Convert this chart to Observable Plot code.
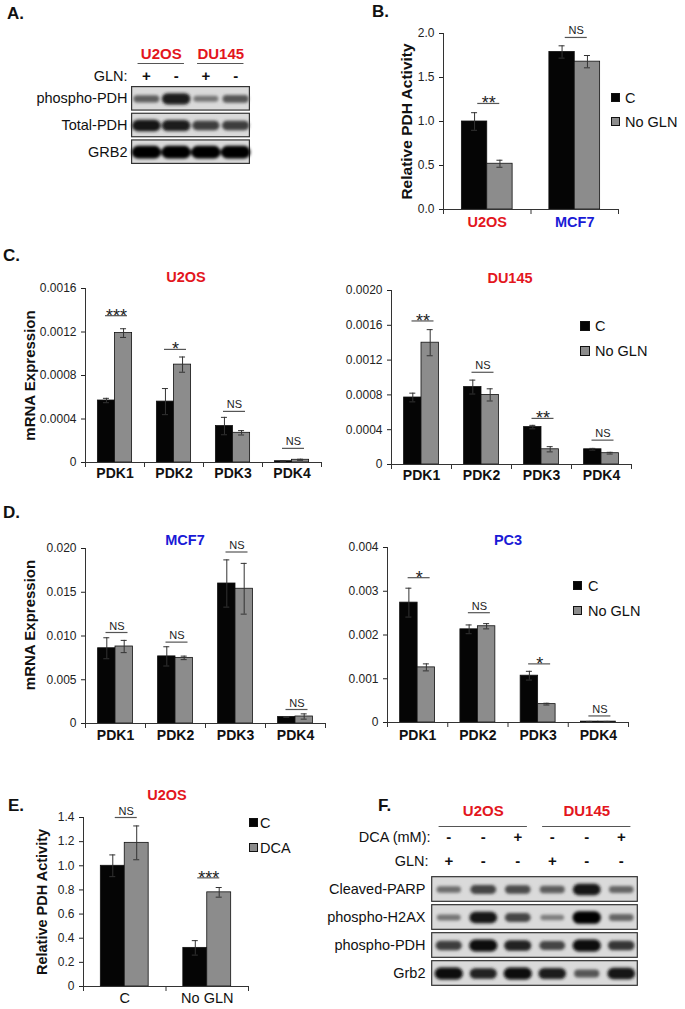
<!DOCTYPE html>
<html><head><meta charset="utf-8">
<script src="https://cdn.jsdelivr.net/npm/d3@7"></script>
<script src="https://cdn.jsdelivr.net/npm/@observablehq/plot@0.6"></script>
<style>
body{margin:0;background:#fff;}
#fig{position:relative;width:685px;height:1009px;overflow:hidden;font-family:"Liberation Sans",Arial,Helvetica,sans-serif;color:#111;}
.abs{position:absolute;white-space:nowrap;line-height:1;}
.sq{position:absolute;border:1px solid #111;box-sizing:border-box;}
</style></head><body><div id="fig"></div>
<script>
// ---------------- DATA ----------------
const pdks = ["PDK1", "PDK2", "PDK3", "PDK4"];
const glnSeries = ["C", "No GLN"];
const dcaSeries = ["C", "DCA"];

// Panel A (western blot, band intensity 0..1)
const aLanes = [1, 2, 3, 4];
const aRows = ["phospho-PDH", "Total-PDH", "GRB2"];
const aGLN = ["+", "-", "+", "-"];
const aGroups = ["U2OS", "DU145"];
const aGroupLanes = [[1, 2], [3, 4]];
const aIntensity = [
  [0.45, 0.85, 0.30, 0.50],
  [0.90, 0.85, 0.65, 0.65],
  [1.00, 1.00, 1.00, 1.00]
];

// Panel B
const bLines = ["U2OS", "MCF7"];
const bC = [1.00, 1.79], bCerr = [0.10, 0.07];
const bN = [0.52, 1.68], bNerr = [0.04, 0.07];
const bSig = ["**", "NS"], bSigLevel = [1.205, 1.955];

// Panel C – U2OS
const u2C = [0.00057, 0.00056, 0.000335, 0.000012], u2Cerr = [0.00002, 0.00012, 0.00008, 0.000005];
const u2N = [0.00119, 0.00090, 0.000273, 0.000025], u2Nerr = [0.00004, 0.00007, 0.00002, 0.000005];
const u2Sig = ["***", "*", "NS", "NS"], u2SigLevel = [0.00135, 0.00104, 0.00047, 0.00013];
// Panel C – DU145
const duC = [0.00077, 0.00089, 0.00043, 0.000175], duCerr = [0.00005, 0.00008, 0.00002, 0.00001];
const duN = [0.00140, 0.00080, 0.000175, 0.00013], duNerr = [0.00015, 0.00007, 0.00003, 0.00001];
const duSig = ["**", "NS", "**", "NS"], duSigLevel = [0.00165, 0.00106, 0.00053, 0.00028];
// Panel D – MCF7
const mcC = [0.0086, 0.00767, 0.0160, 0.00075], mcCerr = [0.0012, 0.0011, 0.0027, 0.00005];
const mcN = [0.0088, 0.0075, 0.0154, 0.0008], mcNerr = [0.0007, 0.0002, 0.0029, 0.0003];
const mcSig = ["NS", "NS", "NS", "NS"], mcSigLevel = [0.0104, 0.0093, 0.0196, 0.0016];
// Panel D – PC3
const pcC = [0.00274, 0.00213, 0.00107, 0.00002], pcCerr = [0.00033, 0.0001, 0.0001, 0.000005];
const pcN = [0.00126, 0.00220, 0.00042, 0.00002], pcNerr = [0.00008, 0.00006, 0.00002, 0.000005];
const pcSig = ["*", "NS", "*", "NS"], pcSigLevel = [0.00331, 0.00251, 0.00134, 0.00015];

// Panel E
const eCats = ["C", "No GLN"];
const eC = [1.00, 0.32], eCerr = [0.09, 0.06];
const eD = [1.19, 0.78], eDerr = [0.14, 0.04];
const eSig = ["NS", "***"], eSigLevel = [1.40, 0.90];

// Panel F (western blot)
const fLanes = [1, 2, 3, 4, 5, 6];
const fRows = ["Cleaved-PARP", "phospho-H2AX", "phospho-PDH", "Grb2"];
const fDCA = ["-", "-", "+", "-", "-", "+"];
const fGLN = ["+", "-", "-", "+", "-", "-"];
const fGroups = ["U2OS", "DU145"];
const fGroupLanes = [[1, 2, 3], [4, 5, 6]];
const fIntensity = [
  [0.35, 0.60, 0.55, 0.45, 0.90, 0.40],
  [0.30, 0.90, 0.60, 0.25, 1.00, 0.40],
  [0.65, 0.95, 0.80, 0.60, 0.95, 0.70],
  [0.95, 0.80, 0.95, 0.85, 0.50, 0.90]
];

// ---------------- STYLE / HELPERS ----------------
const FONT = '"Liberation Sans", Arial, Helvetica, sans-serif';
const RED = "#e3161d", BLUE = "#1a1ad6";
const BLACK = "#050505", GREY = "#8c8c8c";
const fig = document.getElementById("fig");

function addText(txt, x, y, {size = 14, weight = "normal", color = "#111", anchor = "start"} = {}) {
  const d = document.createElement("div");
  d.className = "abs";
  d.textContent = txt;
  d.style.left = x + "px";
  d.style.top = y + "px";
  d.style.fontSize = size + "px";
  d.style.fontWeight = weight;
  d.style.color = color;
  const tx = anchor === "middle" ? "-50%" : anchor === "end" ? "-100%" : "0";
  d.style.transform = `translate(${tx}, -50%)`;
  fig.appendChild(d);
}
function addSwatch(x, y, s, fill) {
  const d = document.createElement("div");
  d.className = "sq";
  d.style.left = x + "px"; d.style.top = y + "px";
  d.style.width = s + "px"; d.style.height = s + "px";
  d.style.background = fill;
  fig.appendChild(d);
}
function place(svg, left, top) {
  svg.style.position = "absolute";
  svg.style.left = left + "px";
  svg.style.top = top + "px";
  fig.appendChild(svg);
}
const baseStyle = {fontFamily: FONT, fontSize: "12px", color: "#222", background: "transparent", overflow: "visible"};

function groupedBars(cfg) {
  const {cats, vals, errs, colors, sig, sigLevel, domain, ticks, fmt, box, m,
         frac = 0.58, catFill, catWeight = "bold", catSize = 14, catDy,
         yLabel, yLabelDx, yLabelDy = 0, yLabelSize = 14.5} = cfg;
  const n = cats.length;
  const frameW = box.w - m.l - m.r, frameH = box.h - m.t - m.b;
  const stepPx = frameW / n;
  const half = frac / 2;
  const bars = [];
  vals.forEach((arr, s) => arr.forEach((v, i) => {
    const x1 = s === 0 ? i - half : i;
    const x2 = s === 0 ? i : i + half;
    bars.push({i, s, v, e: errs[s][i], x1, x2, xc: (x1 + x2) / 2});
  }));
  const capU = 3 / stepPx;
  const sigU = 11 / stepPx;
  const sigOff = 1.5 / stepPx;
  const sigRows = sig.map((t, i) => ({i, t, y: sigLevel[i]}));
  const stars = sigRows.filter(d => d.t.startsWith("*"));
  const ns = sigRows.filter(d => !d.t.startsWith("*"));
  const bounds = d3.range(n + 1).map(k => k - 0.5);
  const marks = [
    Plot.rect(bars, {x1: "x1", x2: "x2", y1: 0, y2: "v", fill: d => colors[d.s], stroke: "#111", strokeWidth: 0.8}),
    Plot.ruleX(bars, {x: "xc", y1: d => d.v - d.e, y2: d => d.v + d.e, stroke: "#333", strokeWidth: 1}),
    Plot.ruleY(bars, {y: d => d.v + d.e, x1: d => d.xc - capU, x2: d => d.xc + capU, stroke: "#333", strokeWidth: 1}),
    Plot.ruleY(bars, {y: d => d.v - d.e, x1: d => d.xc - capU, x2: d => d.xc + capU, stroke: "#333", strokeWidth: 1}),
    Plot.ruleX([-0.5], {x: d => d, stroke: "#333"}),
    Plot.ruleY([0], {y: d => d, stroke: "#333"}),
    Plot.ruleX(bounds, {x: d => d, insetTop: frameH, insetBottom: -5, stroke: "#333"}),
    Plot.ruleY(sigRows, {y: "y", x1: d => d.i + sigOff - sigU, x2: d => d.i + sigOff + sigU, stroke: "#555", strokeWidth: 1.2}),
    Plot.text(ns, {x: d => d.i + sigOff, y: "y", text: "t", lineAnchor: "bottom", dy: -3, fontSize: 11, fill: "#222"}),
    Plot.text(stars, {x: d => d.i + sigOff, y: "y", text: "t", lineAnchor: "bottom", dy: 6, fontSize: 18, fill: "#222"}),
    Plot.text(cats, {x: (d, i) => i, text: d => d, frameAnchor: "bottom", dy: catDy, lineAnchor: "middle",
      fontWeight: catWeight, fontSize: catSize, fill: (d, i) => catFill ? catFill[i] : "#111"})
  ];
  if (yLabel) marks.push(Plot.text([yLabel], {frameAnchor: "left", textAnchor: "middle", text: d => d, rotate: -90,
      dx: yLabelDx, dy: yLabelDy, fontWeight: "bold", fontSize: yLabelSize, fill: "#111"}));
  const svg = Plot.plot({
    width: box.w, height: box.h,
    marginLeft: m.l, marginRight: m.r, marginTop: m.t, marginBottom: m.b,
    style: baseStyle,
    color: {type: "identity"},
    x: {domain: [-0.5, n - 0.5], axis: null},
    y: {domain, ticks, tickFormat: fmt, tickSize: 4, tickPadding: 5, label: null},
    marks
  });
  place(svg, box.x, box.y);
}

function bandSymbol(base) {
  return {draw(ctx, size) {
    const r = Math.sqrt(size / Math.PI);
    const b = 0.9 * r, a = base + 0.6 * r;
    ctx.moveTo(-a + b, -b);
    ctx.lineTo(a - b, -b);
    ctx.arc(a - b, 0, b, -Math.PI / 2, Math.PI / 2);
    ctx.lineTo(-a + b, b);
    ctx.arc(-a + b, 0, b, Math.PI / 2, 3 * Math.PI / 2);
    ctx.closePath();
  }};
}

function blot(cfg) {
  const {id, lanes, rows, intensity, groups, groupLanes, treat, box, m, base,
         groupDy, lineDy, labelDx} = cfg;
  const nR = rows.length;
  const bands = [];
  intensity.forEach((arr, r) => arr.forEach((v, k) => bands.push({lane: lanes[k], r, v})));
  const boxes = rows.map((name, r) => ({name, r}));
  const lo = d3.min(lanes) - 0.5, hi = d3.max(lanes) + 0.5;
  const grp = groups.map((g, k) => ({g, c: d3.mean(groupLanes[k]), a: d3.min(groupLanes[k]) - 0.28, b: d3.max(groupLanes[k]) + 0.28}));
  const marks = [
    Plot.rect(boxes, {x1: lo + 0.02, x2: hi - 0.02, y1: d => d.r - 0.44, y2: d => d.r + 0.44, fill: "#dadada", stroke: "#333", strokeWidth: 1.2}),
    Plot.dot(bands, {x: "lane", y: "r", r: "v", fill: "v", symbol: bandSymbol(base)}),
    Plot.text(boxes, {y: "r", text: "name", frameAnchor: "left", textAnchor: "end", dx: labelDx, fontSize: 14.5, fill: "#111"}),
    Plot.text(grp, {x: "c", text: "g", frameAnchor: "top", dy: groupDy, lineAnchor: "middle", fontSize: 15, fontWeight: "bold", fill: RED}),
    Plot.ruleY(grp, {y: -0.5, x1: "a", x2: "b", dy: lineDy, stroke: "#555", strokeWidth: 1.2})
  ];
  treat.forEach(t => {
    marks.push(Plot.text(t.signs, {x: (d, i) => lanes[i], text: d => d, frameAnchor: "top", dy: t.dy, lineAnchor: "middle", fontSize: 15, fontWeight: "bold", fill: "#111"}));
    marks.push(Plot.text([t.label], {text: d => d, frameAnchor: "top-left", dx: t.dx, dy: t.dy, textAnchor: "end", lineAnchor: "middle", fontSize: 14.5, fill: "#111"}));
  });
  const svg = Plot.plot({
    width: box.w, height: box.h,
    marginLeft: m.l, marginRight: m.r, marginTop: m.t, marginBottom: m.b,
    style: baseStyle,
    x: {domain: [lo, hi], axis: null},
    y: {domain: [nR - 0.5, -0.5], axis: null},
    r: {type: "linear", domain: [0, 1], range: [1.7, 7]},
    color: {type: "linear", domain: [0, 1], range: ["#a6a6a6", "#030303"]},
    marks
  });
  const s = d3.select(svg);
  s.insert("defs", ":first-child").append("filter").attr("id", id)
    .attr("x", "-20%").attr("y", "-50%").attr("width", "140%").attr("height", "200%")
    .append("feGaussianBlur").attr("stdDeviation", 1.5);
  s.selectAll('g[aria-label="dot"]').attr("filter", `url(#${id})`);
  place(svg, box.x, box.y);
}

const fmtN = k => d => d === 0 ? "0" : d.toFixed(k);

// ---------------- PANEL A ----------------
blot({id: "blurA", lanes: aLanes, rows: aRows, intensity: aIntensity, groups: aGroups, groupLanes: aGroupLanes,
  treat: [{label: "GLN:", signs: aGLN, dy: -9, dx: -4}],
  box: {x: 0, y: 30, w: 290, h: 145}, m: {l: 131, r: 40, t: 55, b: 10}, base: 10.5,
  groupDy: -31, lineDy: -22, labelDx: -4});

// ---------------- PANEL B ----------------
groupedBars({cats: bLines, vals: [bC, bN], errs: [bCerr, bNerr], colors: [BLACK, GREY],
  sig: bSig, sigLevel: bSigLevel, domain: [0, 2], ticks: [0, 0.5, 1, 1.5, 2], fmt: d => d.toFixed(1),
  box: {x: 360, y: 0, w: 325, h: 240}, m: {l: 83, r: 67, t: 33, b: 31},
  catFill: [RED, BLUE], catSize: 14.5, catDy: 13, yLabel: "Relative PDH Activity", yLabelDx: -36, yLabelSize: 15.5});

// ---------------- PANEL C ----------------
groupedBars({cats: pdks, vals: [u2C, u2N], errs: [u2Cerr, u2Nerr], colors: [BLACK, GREY],
  sig: u2Sig, sigLevel: u2SigLevel, domain: [0, 0.0016], ticks: [0, 0.0004, 0.0008, 0.0012, 0.0016], fmt: fmtN(4),
  box: {x: 0, y: 240, w: 345, h: 250}, m: {l: 85, r: 24, t: 48, b: 28},
  catDy: 11, yLabel: "mRNA Expression", yLabelDx: -55, yLabelSize: 15});
groupedBars({cats: pdks, vals: [duC, duN], errs: [duCerr, duNerr], colors: [BLACK, GREY],
  sig: duSig, sigLevel: duSigLevel, domain: [0, 0.002], ticks: [0, 0.0004, 0.0008, 0.0012, 0.0016, 0.002], fmt: fmtN(4),
  box: {x: 345, y: 240, w: 340, h: 250}, m: {l: 46, r: 54, t: 50, b: 26}, catDy: 11});

// ---------------- PANEL D ----------------
groupedBars({cats: pdks, vals: [mcC, mcN], errs: [mcCerr, mcNerr], colors: [BLACK, GREY],
  sig: mcSig, sigLevel: mcSigLevel, domain: [0, 0.02], ticks: [0, 0.005, 0.01, 0.015, 0.02], fmt: fmtN(3),
  box: {x: 0, y: 500, w: 345, h: 245}, m: {l: 85, r: 20, t: 48, b: 22},
  catDy: 12, yLabel: "mRNA Expression", yLabelDx: -55, yLabelDy: -11, yLabelSize: 15});
groupedBars({cats: pdks, vals: [pcC, pcN], errs: [pcCerr, pcNerr], colors: [BLACK, GREY],
  sig: pcSig, sigLevel: pcSigLevel, domain: [0, 0.004], ticks: [0, 0.001, 0.002, 0.003, 0.004], fmt: fmtN(3),
  box: {x: 345, y: 500, w: 340, h: 245}, m: {l: 42, r: 57, t: 47, b: 23}, catDy: 13});

// ---------------- PANEL E ----------------
groupedBars({cats: eCats, vals: [eC, eD], errs: [eCerr, eDerr], colors: [BLACK, GREY],
  sig: eSig, sigLevel: eSigLevel, domain: [0, 1.4], ticks: [0, 0.2, 0.4, 0.6, 0.8, 1.0, 1.2, 1.4], fmt: fmtN(1),
  box: {x: 0, y: 760, w: 330, h: 249}, m: {l: 83, r: 82, t: 57, b: 23},
  catWeight: "normal", catSize: 14.5, catDy: 12, yLabel: "Relative PDH Activity", yLabelDx: -41});

// ---------------- PANEL F ----------------
blot({id: "blurF", lanes: fLanes, rows: fRows, intensity: fIntensity, groups: fGroups, groupLanes: fGroupLanes,
  treat: [{label: "DCA (mM):", signs: fDCA, dy: -38, dx: -1}, {label: "GLN:", signs: fGLN, dy: -14, dx: -3}],
  box: {x: 310, y: 790, w: 375, h: 219}, m: {l: 121, r: 47, t: 85, b: 22}, base: 10,
  groupDy: -64, lineDy: -49, labelDx: -6});

// ---------------- TEXT: panel letters, titles, legends ----------------
addText("A.", 7, 13, {size: 17, weight: "bold"});
addText("B.", 372, 11, {size: 17, weight: "bold"});
addText("C.", 3, 255, {size: 17, weight: "bold"});
addText("D.", 3, 512, {size: 17, weight: "bold"});
addText("E.", 8, 805, {size: 17, weight: "bold"});
addText("F.", 378, 805, {size: 17, weight: "bold"});

addText("U2OS", 186, 277, {size: 14.5, weight: "bold", color: RED, anchor: "middle"});
addText("DU145", 510, 278, {size: 14.5, weight: "bold", color: RED, anchor: "middle"});
addText("MCF7", 185, 540, {size: 14.5, weight: "bold", color: BLUE, anchor: "middle"});
addText("PC3", 508, 540, {size: 14.5, weight: "bold", color: BLUE, anchor: "middle"});
addText("U2OS", 167, 795, {size: 14.5, weight: "bold", color: RED, anchor: "middle"});

function legend(x, y, gap, s, names, tx) {
  [BLACK, GREY].forEach((c, k) => {
    addSwatch(x, y + k * gap, s, c);
    addText(names[k], tx, y + k * gap + s / 2, {size: 14.5});
  });
}
legend(611, 93, 24, 9, glnSeries, 625);
legend(580, 321, 25, 10, glnSeries, 595);
legend(573, 581, 25, 9, glnSeries, 588);
legend(249, 818, 25, 9, dcaSeries, 260);
</script></body></html>
